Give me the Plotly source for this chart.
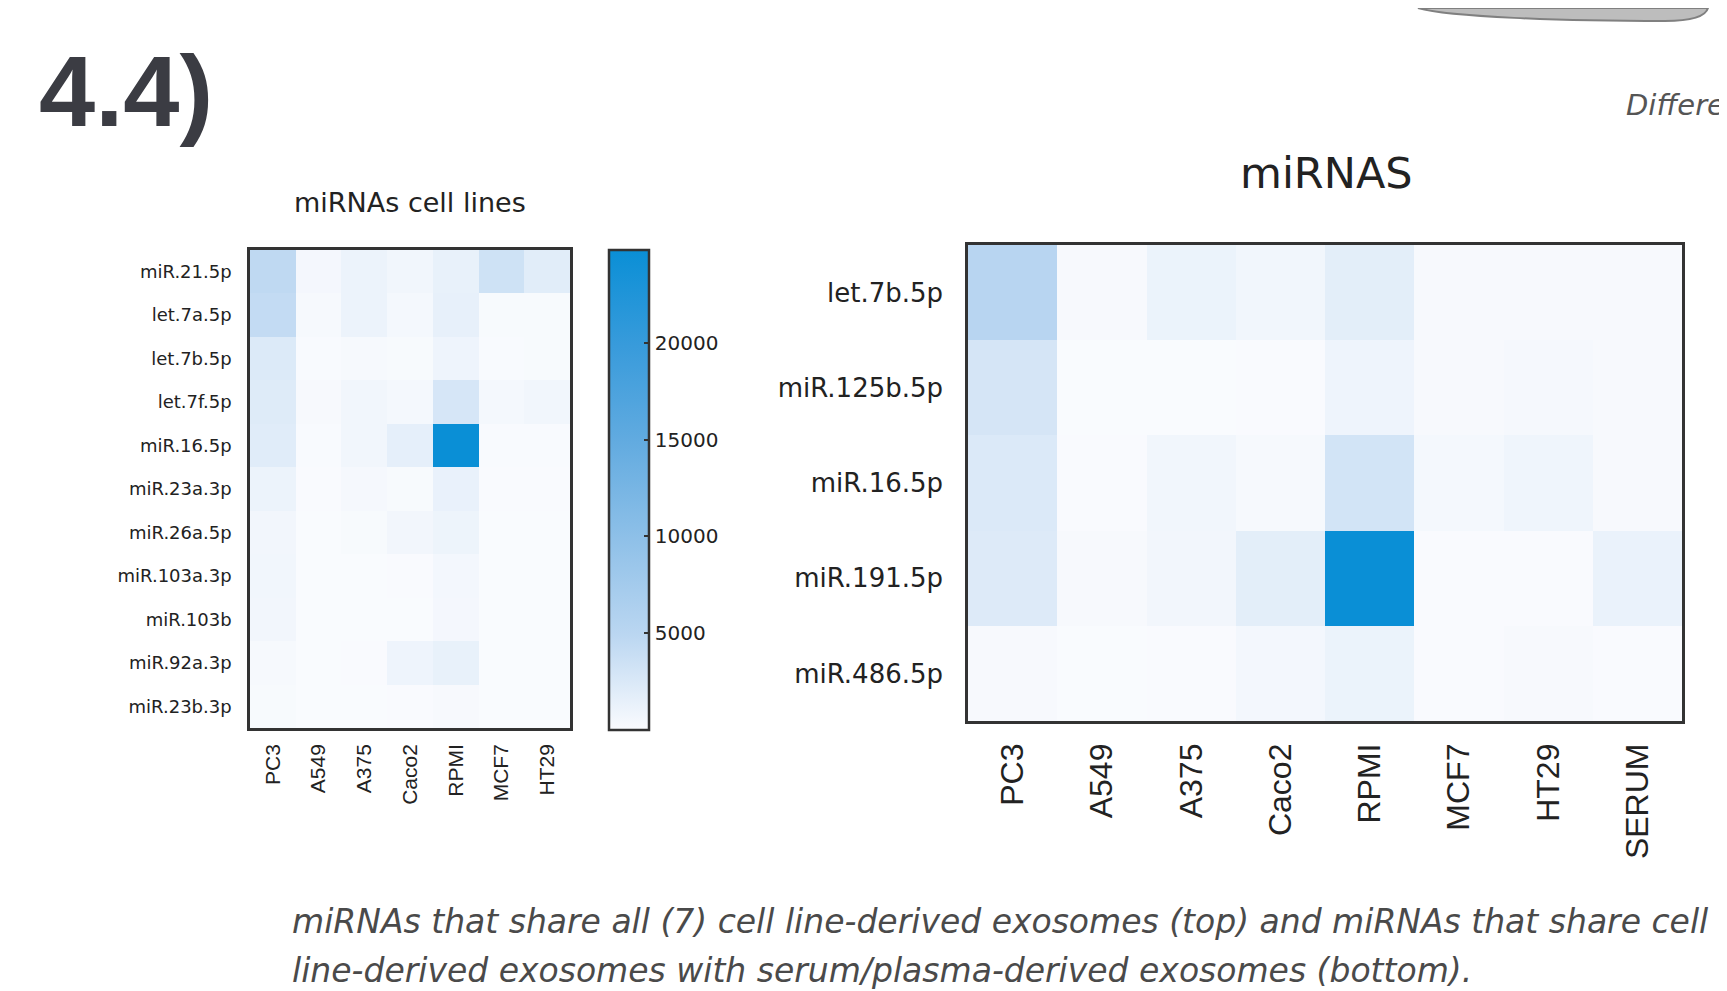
import plotly.graph_objects as go

# page has an 8px body margin: the figure is drawn inside it
OFF = 8
W, H = 1727 - OFF, 991 - OFF

# ---------------- data ----------------
left_rows = ["miR.21.5p", "let.7a.5p", "let.7b.5p", "let.7f.5p", "miR.16.5p",
             "miR.23a.3p", "miR.26a.5p", "miR.103a.3p", "miR.103b",
             "miR.92a.3p", "miR.23b.3p"]
left_cols = ["PC3", "A549", "A375", "Caco2", "RPMI", "MCF7", "HT29"]
left_values = [
    [4600, 500, 1100, 700, 1400, 3400, 1900],
    [4300, 300, 1100, 450, 1500, 200, 200],
    [2300, 150, 300, 200, 900, 150, 200],
    [2200, 250, 700, 450, 2800, 450, 700],
    [2000, 150, 700, 1600, 24800, 150, 150],
    [1100, 100, 400, 200, 1300, 100, 100],
    [650, 50, 200, 650, 1000, 50, 50],
    [700, 50, 50, 100, 550, 50, 50],
    [650, 50, 50, 50, 500, 50, 50],
    [300, 50, 100, 900, 1400, 50, 50],
    [200, 50, 50, 100, 250, 50, 50],
]

right_rows = ["let.7b.5p", "miR.125b.5p", "miR.16.5p", "miR.191.5p", "miR.486.5p"]
right_cols = ["PC3", "A549", "A375", "Caco2", "RPMI", "MCF7", "HT29", "SERUM"]
right_values = [
    [5000, 250, 1100, 700, 1700, 200, 200, 250],
    [2800, 50, 50, 100, 900, 200, 400, 200],
    [2300, 100, 700, 300, 3000, 450, 800, 200],
    [2200, 200, 600, 1700, 24000, 100, 100, 1200],
    [250, 50, 100, 500, 1100, 100, 200, 100],
]

colorbar_ticks = [5000, 10000, 15000, 20000]
left_zmax = 24800
right_zmax = 24000

left_title = "miRNAs cell lines"
right_title = "miRNAS"
panel_label = "4.4)"
corner_text = "Differe"
caption_1 = "miRNAs that share all (7) cell line-derived exosomes (top) and miRNAs that share cell"
caption_2 = "line-derived exosomes with serum/plasma-derived exosomes (bottom)."

# ---------------- style ----------------
colorscale = [
    [0.0, "#fafbfe"],
    [0.2, "#bad6f1"],
    [0.4, "#8ec0e8"],
    [0.6, "#62abe0"],
    [0.8, "#389bdb"],
    [1.0, "#0a8fd6"],
]
FRAME = "#333333"
TXT = "#222222"


def fx(p):
    return (p - OFF) / W


def fy(p):
    return 1 - (p - OFF) / H


fig = go.Figure()

fig.add_trace(go.Heatmap(
    z=left_values, x=left_cols, y=left_rows,
    colorscale=colorscale, zmin=0, zmax=left_zmax,
    xaxis="x", yaxis="y",
    colorbar=dict(
        x=fx(609), xanchor="left", xpad=0,
        y=fy(250), yanchor="top", ypad=0,
        len=480, lenmode="pixels",
        thickness=40, thicknessmode="pixels",
        outlinecolor=FRAME, outlinewidth=2.5,
        tickmode="array", tickvals=colorbar_ticks, tickformat="d",
        ticks="inside", ticklen=6, tickwidth=2, tickcolor=FRAME,
        tickfont=dict(family="DejaVu Sans", size=20, color=TXT),
    ),
))

fig.add_trace(go.Heatmap(
    z=right_values, x=right_cols, y=right_rows,
    colorscale=colorscale, zmin=0, zmax=right_zmax,
    xaxis="x2", yaxis="y2", showscale=False,
))

axis_common = dict(showline=True, mirror=True, linecolor=FRAME, linewidth=2.5,
                   ticks="", showgrid=False, zeroline=False)

fig.update_layout(
    width=W, height=H,
    margin=dict(l=0, r=0, t=0, b=0),
    paper_bgcolor="white", plot_bgcolor="white",
    xaxis=dict(domain=[fx(250), fx(570)], anchor="y", tickangle=-90,
               tickfont=dict(family="Liberation Sans", size=21, color=TXT),
               ticklabelstandoff=5, **axis_common),
    yaxis=dict(domain=[fy(728), fy(250)], anchor="x", autorange="reversed",
               tickfont=dict(family="DejaVu Sans", size=18, color=TXT),
               ticklabelstandoff=12, **axis_common),
    xaxis2=dict(domain=[fx(968), fx(1682)], anchor="y2", tickangle=-90,
                tickfont=dict(family="Liberation Sans", size=32, color=TXT),
                ticklabelstandoff=7, **axis_common),
    yaxis2=dict(domain=[fy(721), fy(245)], anchor="x2", autorange="reversed",
                tickfont=dict(family="DejaVu Sans", size=26, color=TXT),
                ticklabelstandoff=17, **axis_common),
    font=dict(family="DejaVu Sans", color=TXT),
)

annotations = [
    dict(text="<b>" + panel_label + "</b>", x=fx(37), y=fy(91), xanchor="left", yanchor="middle",
         font=dict(family="Liberation Sans", size=101, color="#3b3c43")),
    dict(text=corner_text, x=fx(1624), y=fy(105), xanchor="left", yanchor="middle",
         font=dict(family="DejaVu Sans", size=29, color="#555555", style="italic")),
    dict(text=left_title, x=fx(410), y=fy(202), xanchor="center", yanchor="middle",
         font=dict(family="DejaVu Sans", size=27, color=TXT)),
    dict(text=right_title, x=fx(1326), y=fy(173), xanchor="center", yanchor="middle",
         font=dict(family="DejaVu Sans", size=43, color=TXT)),
    dict(text=caption_1, x=fx(290), y=fy(921), xanchor="left", yanchor="middle",
         font=dict(family="DejaVu Sans", size=33, color="#4a4a4a", style="italic")),
    dict(text=caption_2, x=fx(290), y=fy(970), xanchor="left", yanchor="middle",
         font=dict(family="DejaVu Sans", size=33, color="#4a4a4a", style="italic")),
]
for a in annotations:
    a.update(xref="paper", yref="paper", showarrow=False)
fig.update_layout(annotations=annotations)

# decorative grey object cut off at the top-right corner (page is shifted by OFF)
path = (f"M {fx(1418)},{fy(OFF)} "
        f"C {fx(1450)},{fy(17)} {fx(1560)},{fy(21)} {fx(1665)},{fy(21)} "
        f"C {fx(1695)},{fy(21)} {fx(1706)},{fy(15)} {fx(1708)},{fy(OFF)} Z")
fig.add_shape(type="path", path=path, xref="paper", yref="paper",
              fillcolor="#bdbdbd", line=dict(color="#808080", width=2), layer="above")

fig.write_html("out.html")
